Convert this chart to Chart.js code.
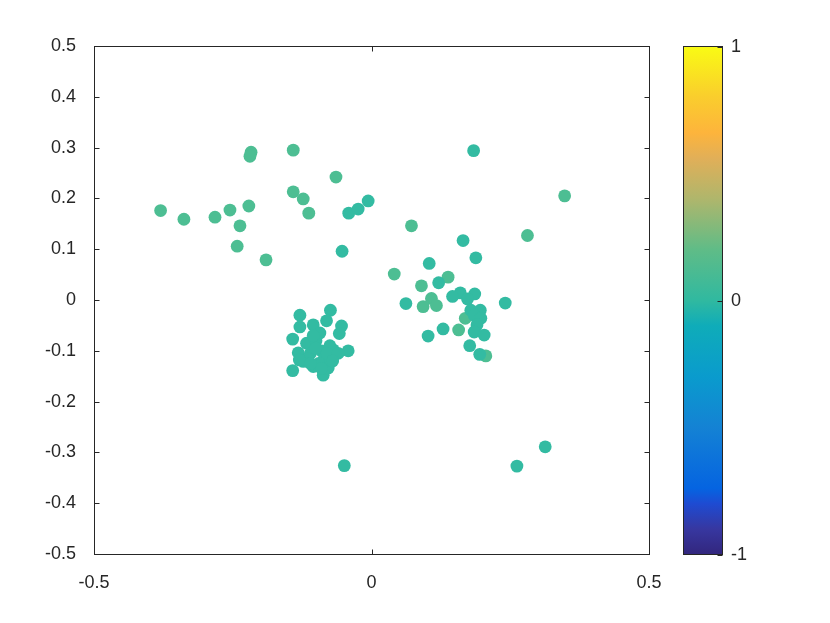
<!DOCTYPE html>
<html>
<head>
<meta charset="utf-8">
<script src="https://cdn.jsdelivr.net/npm/chart.js@4/dist/chart.umd.min.js"></script>
<style>
  html, body { margin:0; padding:0; background:#fff; }
  #wrap { width:830px; height:623px; }
</style>
</head>
<body>
<div id="wrap"><canvas id="chart" width="830" height="623"></canvas></div>
<script>
/* ===== data ===== */
// points drawn in the teal shade (colour value ~0)
const tealX = [-0.041,-0.024,-0.006,-0.053, 0.184, 0.165, 0.188, 0.104, 0.121, 0.160, 0.186, 0.146, 0.173, 0.062, 0.241, 0.179, 0.196, 0.185, 0.197, 0.190, 0.129, 0.185, 0.203, 0.102, 0.177, 0.195,
  -0.049, 0.262, 0.313,
  -0.129,-0.074,-0.081,-0.054,-0.058,-0.129,-0.142,-0.105,-0.042,-0.142,-0.087,-0.132,-0.093,-0.069,-0.105,-0.078,-0.117,-0.123,
  -0.100,-0.090,-0.110,-0.085,-0.095,-0.075,-0.115,-0.100,-0.080,-0.105,-0.060,-0.130,-0.090,-0.110,-0.070];
const tealY = [0.171, 0.179, 0.195, 0.096, 0.294, 0.117, 0.083, 0.072, 0.034, 0.014, 0.012, 0.007, 0.002,-0.007,-0.006,-0.020,-0.020,-0.030,-0.036,-0.049,-0.057,-0.063,-0.069,-0.071,-0.090,-0.107,
  -0.326,-0.327,-0.289,
  -0.030,-0.020,-0.041,-0.051,-0.066,-0.053,-0.077,-0.049,-0.100,-0.139,-0.148,-0.104,-0.065,-0.098,-0.131,-0.134,-0.085,-0.121,
  -0.080,-0.100,-0.105,-0.115,-0.125,-0.090,-0.115,-0.095,-0.105,-0.070,-0.105,-0.118,-0.135,-0.125,-0.120];
// points drawn in the greener shade
const greenX = [-0.380,-0.338,-0.282,-0.255,-0.221,-0.237,-0.242,-0.190,-0.217,-0.219,-0.141,-0.141,-0.123,-0.113,-0.064,
  0.348, 0.072, 0.281, 0.041, 0.138, 0.090, 0.108, 0.093, 0.117, 0.169, 0.157, 0.206];
const greenY = [0.176, 0.159, 0.163, 0.177, 0.185, 0.146, 0.106, 0.079, 0.291, 0.283, 0.295, 0.213, 0.199, 0.171, 0.242,
  0.205, 0.146, 0.127, 0.051, 0.045, 0.028, 0.003,-0.013,-0.011,-0.036,-0.059,-0.110];

const xTicks = [-0.5, 0, 0.5];
const yTicks = [0.5, 0.4, 0.3, 0.2, 0.1, 0, -0.1, -0.2, -0.3, -0.4, -0.5];
const cbarTicks = [1, 0, -1];
// colormap stops as seen on the colorbar (position 0..1, bottom to top)
const cmapPos = [0, 0.05, 0.1, 0.13, 0.25, 0.35, 0.45, 0.5, 0.6, 0.7, 0.78, 0.83, 0.9, 1];
const cmapRGB = ["rgb(50,38,125)","rgb(55,55,160)","rgb(30,75,210)","rgb(5,100,225)","rgb(20,130,212)",
                 "rgb(10,155,205)","rgb(15,172,185)","rgb(48,185,160)","rgb(95,188,135)","rgb(175,182,108)",
                 "rgb(225,175,88)","rgb(253,180,60)","rgb(250,205,45)","rgb(249,251,20)"];

const TEAL = "rgb(51,187,162)";
const GREEN = "rgb(77,190,147)";
const INK = "#262626";
const FONT = "'Liberation Sans', Arial, sans-serif";
const FSIZE = 18;

const pts = (xs, ys) => xs.map((x, i) => ({x, y: ys[i]}));

/* ===== frame, inward ticks and colorbar ===== */
const framePlugin = {
  id: "frame",
  afterDraw(chart) {
    const {ctx, chartArea: a, scales: {x, y}} = chart;
    ctx.save();
    ctx.strokeStyle = INK;
    ctx.lineWidth = 1;
    const L = Math.round(a.left) + 0.5, R = Math.round(a.right) + 0.5;
    const T = Math.round(a.top) + 0.5, B = Math.round(a.bottom) + 0.5;
    ctx.strokeRect(L, T, R - L, B - T);
    ctx.beginPath();
    yTicks.forEach(v => {
      const p = Math.round(y.getPixelForValue(v)) + 0.5;
      ctx.moveTo(L, p); ctx.lineTo(L + 5, p);
      ctx.moveTo(R, p); ctx.lineTo(R - 5, p);
    });
    xTicks.forEach(v => {
      const p = Math.round(x.getPixelForValue(v)) + 0.5;
      ctx.moveTo(p, B); ctx.lineTo(p, B - 5);
      ctx.moveTo(p, T); ctx.lineTo(p, T + 5);
    });
    ctx.stroke();

    // colorbar
    const cl = 683, cr = 722, ct = T, cb = B;
    const g = ctx.createLinearGradient(0, cb, 0, ct);
    cmapPos.forEach((p, i) => g.addColorStop(p, cmapRGB[i]));
    ctx.fillStyle = g;
    ctx.fillRect(cl, ct, cr - cl, cb - ct);
    ctx.strokeRect(cl + 0.5, ct, cr - cl, cb - ct);
    ctx.fillStyle = INK;
    ctx.font = FSIZE + "px " + FONT;
    ctx.textAlign = "left";
    ctx.textBaseline = "middle";
    ctx.beginPath();
    cbarTicks.forEach(v => {
      const p = Math.round(cb - (v + 1) / 2 * (cb - ct)) + 0.5;
      ctx.moveTo(cr + 0.5, p); ctx.lineTo(cr - 4.5, p);
      ctx.fillText(String(v), 731, p);
    });
    ctx.stroke();
    ctx.restore();
  }
};

new Chart(document.getElementById("chart"), {
  type: "scatter",
  data: {
    datasets: [
      {data: pts(tealX, tealY), backgroundColor: TEAL, borderWidth: 0, pointRadius: 6.4, pointHoverRadius: 6.4},
      {data: pts(greenX, greenY), backgroundColor: GREEN, borderWidth: 0, pointRadius: 6.4, pointHoverRadius: 6.4}
    ]
  },
  options: {
    responsive: false,
    animation: false,
    layout: {padding: {left: 0, right: 181, top: 46, bottom: 0}},
    plugins: {legend: {display: false}, tooltip: {enabled: false}},
    scales: {
      x: {
        type: "linear", min: -0.5, max: 0.5,
        afterFit: s => { s.height = 69; },
        afterBuildTicks: s => { s.ticks = xTicks.map(v => ({value: v})); },
        grid: {display: false}, border: {display: false},
        ticks: {color: INK, font: {family: FONT, size: FSIZE}, padding: 10, maxRotation: 0,
                callback: v => String(+v.toFixed(1))}
      },
      y: {
        type: "linear", min: -0.5, max: 0.5,
        afterFit: s => { s.width = 94; },
        afterBuildTicks: s => { s.ticks = yTicks.map(v => ({value: v})); },
        grid: {display: false}, border: {display: false},
        ticks: {color: INK, font: {family: FONT, size: FSIZE}, padding: 10,
                callback: v => String(+v.toFixed(1))}
      }
    }
  },
  plugins: [framePlugin]
});
</script>
</body>
</html>
